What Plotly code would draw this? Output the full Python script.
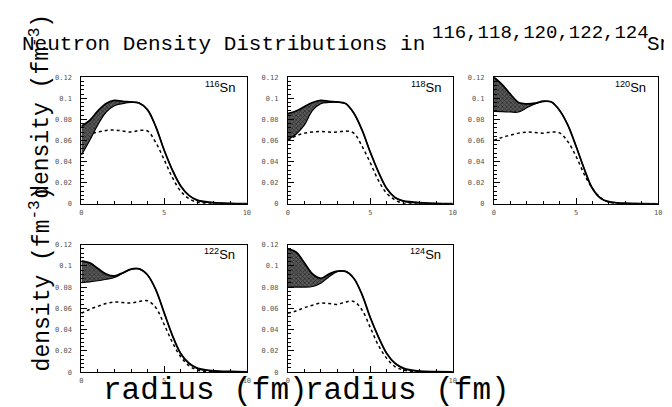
import plotly.graph_objects as go

# ---------------- data ----------------
r = [0, 0.5, 1, 1.5, 2, 2.5, 3, 3.5, 4, 4.5, 5, 5.5, 6, 6.5, 7, 7.5, 8, 9, 10]

nuclei = ["116", "118", "120", "122", "124"]

upper_116 = [0.0735, 0.079, 0.088, 0.095, 0.098, 0.097, 0.0965, 0.0955, 0.089, 0.073, 0.051, 0.032, 0.017, 0.008, 0.0035, 0.002, 0.0012, 0.0005, 0.0002]
lower_116 = [0.046, 0.060, 0.075, 0.087, 0.093, 0.095, 0.096, 0.0955, 0.089, 0.073, 0.051, 0.032, 0.017, 0.008, 0.0033, 0.0015, 0.0008, 0.0002, 0.0]
dotted_116 = [0.064, 0.066, 0.068, 0.0695, 0.070, 0.069, 0.068, 0.0695, 0.069, 0.058, 0.042, 0.025, 0.012, 0.005, 0.0015, 0.0005, 0.0002, 0.0, 0.0]

upper_118 = [0.0854, 0.088, 0.092, 0.096, 0.098, 0.097, 0.0965, 0.095, 0.086, 0.070, 0.049, 0.030, 0.0145, 0.006, 0.0028, 0.0018, 0.0012, 0.0004, 0.0001]
lower_118 = [0.0608, 0.066, 0.0746, 0.0885, 0.095, 0.096, 0.0963, 0.095, 0.086, 0.070, 0.049, 0.030, 0.0145, 0.006, 0.0025, 0.0012, 0.0006, 0.0002, 0.0]
dotted_118 = [0.060, 0.0645, 0.067, 0.068, 0.0685, 0.068, 0.068, 0.069, 0.067, 0.0546, 0.039, 0.022, 0.0099, 0.0037, 0.0006, 0.0002, 0.0, 0.0, 0.0]

upper_120 = [0.120, 0.113, 0.104, 0.096, 0.0947, 0.0953, 0.0972, 0.0965, 0.0885, 0.0746, 0.0546, 0.033, 0.0145, 0.0052, 0.002, 0.001, 0.0006, 0.0002, 0.0]
lower_120 = [0.0876, 0.0874, 0.087, 0.087, 0.091, 0.0947, 0.097, 0.0965, 0.0885, 0.0746, 0.0546, 0.033, 0.0145, 0.0052, 0.0018, 0.0007, 0.0003, 0.0001, 0.0]
dotted_120 = [0.060, 0.063, 0.065, 0.067, 0.068, 0.0675, 0.067, 0.068, 0.0672, 0.059, 0.045, 0.028, 0.0145, 0.0059, 0.0015, 0.0004, 0.0001, 0.0, 0.0]

upper_122 = [0.1046, 0.1028, 0.0975, 0.0923, 0.0905, 0.0935, 0.097, 0.0972, 0.0914, 0.0775, 0.056, 0.0345, 0.0175, 0.0083, 0.0037, 0.002, 0.0012, 0.0006, 0.0002]
lower_122 = [0.0843, 0.085, 0.086, 0.0874, 0.089, 0.093, 0.0966, 0.0972, 0.0914, 0.0775, 0.056, 0.0345, 0.0175, 0.0083, 0.0035, 0.0017, 0.0009, 0.0003, 0.0]
dotted_122 = [0.0554, 0.059, 0.062, 0.0645, 0.066, 0.0655, 0.065, 0.0665, 0.0672, 0.0606, 0.045, 0.028, 0.0145, 0.006, 0.002, 0.0006, 0.0002, 0.0, 0.0]

upper_124 = [0.116, 0.113, 0.103, 0.0923, 0.0883, 0.0923, 0.095, 0.0948, 0.0883, 0.073, 0.0514, 0.033, 0.0175, 0.0083, 0.0037, 0.0018, 0.0009, 0.0004, 0.0001]
lower_124 = [0.080, 0.080, 0.080, 0.0806, 0.0837, 0.0898, 0.0945, 0.0948, 0.0883, 0.073, 0.0514, 0.033, 0.0175, 0.0083, 0.0035, 0.0016, 0.0007, 0.0002, 0.0]
dotted_124 = [0.0554, 0.0575, 0.0606, 0.063, 0.065, 0.0645, 0.0637, 0.066, 0.0665, 0.0585, 0.042, 0.025, 0.0129, 0.0052, 0.002, 0.0006, 0.0002, 0.0, 0.0]

x_ticks = [0, 5, 10]
y_ticks = [0, 0.02, 0.04, 0.06, 0.08, 0.1, 0.12]

title_main = "Neutron Density Distributions in"
title_sup = "116,118,120,122,124"
title_elem = "Sn"
x_title = "radius (fm)"
y_title = "density (fm<sup>-3</sup>)"

series = {
    "116": (upper_116, lower_116, dotted_116),
    "118": (upper_118, lower_118, dotted_118),
    "120": (upper_120, lower_120, dotted_120),
    "122": (upper_122, lower_122, dotted_122),
    "124": (upper_124, lower_124, dotted_124),
}

# ---------------- layout ----------------
W, H = 672, 407
col_px = [(72, 239), (280.3, 446.7), (488.3, 654)]
row_px = [(66.5, 195.7), (237.3, 367.3)]
cells = [(0, 0), (1, 0), (2, 0), (0, 1), (1, 1)]

MONO = "Liberation Mono"
fig = go.Figure()
layout = dict(
    width=W, height=H,
    margin=dict(l=0, r=0, t=0, b=0),
    paper_bgcolor="white", plot_bgcolor="white",
    showlegend=False,
    annotations=[],
)

for i, nuc in enumerate(nuclei):
    c, rw = cells[i]
    k = "" if i == 0 else str(i + 1)
    xa, ya = "x" + k, "y" + k
    x0, x1 = col_px[c]
    yt, yb = row_px[rw]
    layout["xaxis" + k] = dict(
        domain=[x0 / W, x1 / W], range=[0, 10], anchor=ya,
        showline=True, mirror=True, linecolor="black", linewidth=1,
        ticks="inside", ticklen=6, tickcolor="black", tickvals=x_ticks,
        minor=dict(dtick=1, ticks="inside", ticklen=3, tickcolor="black"),
        tickfont=dict(size=7, color="#555", family="DejaVu Sans Mono"),
        ticklabelstandoff=2,
        showgrid=False, zeroline=False,
    )
    layout["yaxis" + k] = dict(
        domain=[1 - yb / H, 1 - yt / H], range=[0, 0.12], anchor=xa,
        showline=True, mirror=True, linecolor="black", linewidth=1,
        ticks="inside", ticklen=6, tickcolor="black", tickvals=y_ticks,
        minor=dict(dtick=0.004, ticks="inside", ticklen=3, tickcolor="black"),
        tickfont=dict(size=7, color="#555", family="DejaVu Sans Mono"),
        ticklabelstandoff=7,
        showgrid=False, zeroline=False,
    )
    up, lo, dt = series[nuc]
    fig.add_trace(go.Scatter(x=r, y=dt, xaxis=xa, yaxis=ya, mode="lines",
                             line=dict(color="black", width=1.5, dash="dot", shape="spline"),
                             hoverinfo="skip"))
    fig.add_trace(go.Scatter(x=r, y=lo, xaxis=xa, yaxis=ya, mode="lines",
                             line=dict(color="black", width=1.2, shape="spline"),
                             hoverinfo="skip"))
    fig.add_trace(go.Scatter(x=r, y=up, xaxis=xa, yaxis=ya, mode="lines",
                             fill="tonexty",
                             fillcolor="#333333",
                             fillpattern=dict(shape="x", fgcolor="black", bgcolor="#5a5a5a",
                                              size=3, solidity=0.45),
                             line=dict(color="black", width=1.8, shape="spline"),
                             hoverinfo="skip"))
    layout["annotations"].append(dict(
        x=9.4, y=0.111, xref=xa, yref=ya, xanchor="right", yanchor="middle",
        text="<sup>" + nuc + "</sup>Sn", showarrow=False,
        font=dict(family="Liberation Sans", size=13, color="black"),
    ))

# title (three parts: text, superscript mass numbers, element)
def paper_ann(x, y, text, size, xanchor="left", yanchor="middle", angle=0):
    return dict(x=x / W, y=1 - y / H, xref="paper", yref="paper",
                xanchor=xanchor, yanchor=yanchor, text=text, textangle=angle,
                showarrow=False, font=dict(family=MONO, size=size, color="black"))

layout["annotations"].append(paper_ann(10, 33, title_main, 21))
layout["annotations"].append(paper_ann(424, 21, title_sup, 19))
layout["annotations"].append(paper_ann(641, 33, title_elem, 21))

# x titles
for xr in (303, 507):
    layout["annotations"].append(paper_ann(xr, 386, x_title, 31, xanchor="right"))
# y titles
for yc in (96, 272):
    layout["annotations"].append(paper_ann(31, yc, y_title, 23, xanchor="center", angle=-90))

fig.update_layout(**layout)
fig.write_html("out.html")
